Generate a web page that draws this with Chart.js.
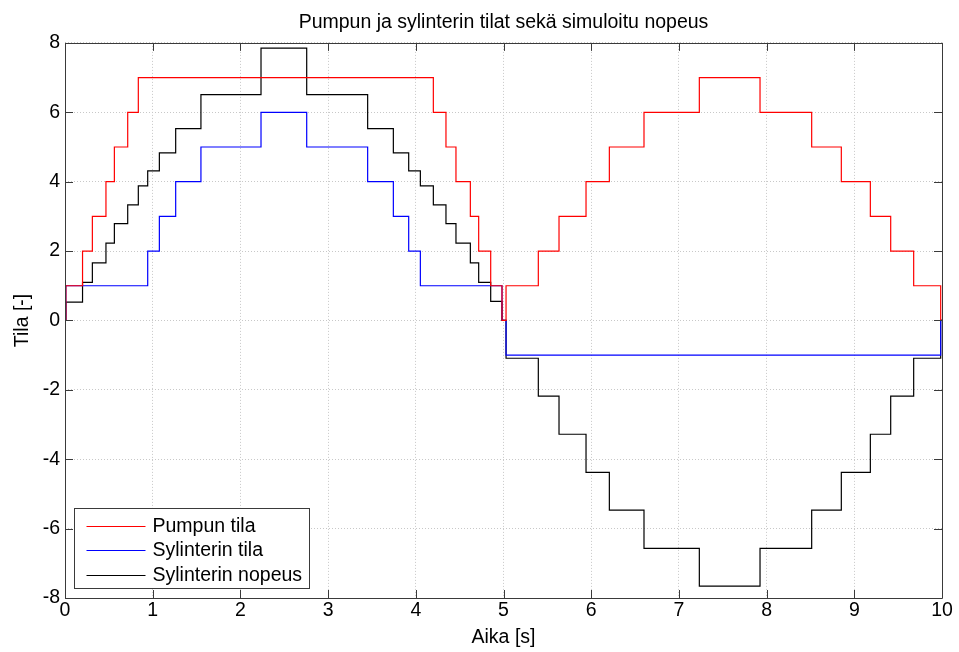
<!DOCTYPE html>
<html>
<head>
<meta charset="utf-8">
<script src="https://cdn.jsdelivr.net/npm/chart.js@4.4.1/dist/chart.umd.min.js"></script>
<style>
  html, body { margin: 0; padding: 0; background: #fff; }
  #wrap { width: 959px; height: 652px; }
</style>
</head>
<body>
<div id="wrap"><canvas id="c"></canvas></div>
<script>
// Step series: each time marks where the state switches to the listed value
const pumpTimes = [0, 0.01, 0.20, 0.312, 0.467, 0.563, 0.715, 0.836, 4.20, 4.344, 4.458, 4.622, 4.717, 4.854, 4.983, 5.029, 5.397, 5.633, 5.941, 6.207, 6.602, 7.233, 7.925, 8.514, 8.852, 9.183, 9.415, 9.677, 9.985, 10];
const pumpState = [0, 1, 2, 3, 4, 5, 6, 7, 6, 5, 4, 3, 2, 1, 0, 1, 2, 3, 4, 5, 6, 7, 6, 5, 4, 3, 2, 1, 0, 0];

const cylTimes = [0, 0.01, 0.943, 1.076, 1.262, 1.55, 2.235, 2.756, 3.451, 3.744, 3.919, 4.052, 4.983, 5.029, 9.985, 10];
const cylState = [0, 1, 2, 3, 4, 5, 6, 5, 4, 3, 2, 1, 0, -1, 0, 0];

const speedTimes = [0, 0.01, 0.20, 0.312, 0.467, 0.563, 0.715, 0.836, 0.943, 1.076, 1.262, 1.55, 2.235, 2.756, 3.451, 3.744, 3.919, 4.052, 4.20, 4.344, 4.458, 4.622, 4.717, 4.854, 4.983, 5.029, 5.397, 5.633, 5.941, 6.207, 6.602, 7.233, 7.925, 8.514, 8.852, 9.183, 9.415, 9.677, 9.985, 10];
const speedValues = [0, 0.53, 1.1, 1.66, 2.23, 2.79, 3.33, 3.88, 4.31, 4.83, 5.53, 6.51, 7.85, 6.51, 5.53, 4.83, 4.31, 3.88, 3.33, 2.79, 2.23, 1.66, 1.1, 0.55, 0, -1.09, -2.18, -3.28, -4.38, -5.47, -6.57, -7.66, -6.57, -5.47, -4.38, -3.28, -2.18, -1.09, 0, 0];

const xTicks = [0, 1, 2, 3, 4, 5, 6, 7, 8, 9, 10];
const yTicks = [-8, -6, -4, -2, 0, 2, 4, 6, 8];

const seriesNames = ['Pumpun tila', 'Sylinterin tila', 'Sylinterin nopeus'];
const seriesColors = ['#ff0000', '#0000ff', '#000000'];

const FONT = '"Liberation Sans", Arial, Helvetica, sans-serif';
const FS = 19.5;

function pts(t, v) { return t.map((x, i) => ({ x: x, y: v[i] })); }

// Axes frame with inward tick marks on all four sides
const framePlugin = {
  id: 'frame',
  afterDatasetsDraw(chart) {
    const { ctx, chartArea: a, scales } = chart;
    ctx.save();
    ctx.strokeStyle = '#3a3a3a';
    ctx.lineWidth = 1;
    ctx.beginPath();
    ctx.rect(Math.round(a.left) + 0.5, Math.round(a.top) + 0.5, Math.round(a.right - a.left), Math.round(a.bottom - a.top));
    ctx.stroke();
    const L = 8;
    ctx.beginPath();
    xTicks.forEach(v => {
      const px = Math.round(scales.x.getPixelForValue(v)) + 0.5;
      ctx.moveTo(px, a.bottom); ctx.lineTo(px, a.bottom - L);
      ctx.moveTo(px, a.top); ctx.lineTo(px, a.top + L);
    });
    yTicks.forEach(v => {
      const py = Math.round(scales.y.getPixelForValue(v)) + 0.5;
      ctx.moveTo(a.left, py); ctx.lineTo(a.left + L, py);
      ctx.moveTo(a.right, py); ctx.lineTo(a.right - L, py);
    });
    ctx.stroke();
    ctx.restore();
  }
};

// Boxed legend in the lower-left corner of the plot area
const boxLegend = {
  id: 'boxLegend',
  afterDraw(chart) {
    const { ctx, chartArea: a } = chart;
    const x0 = a.left + 9.5, y0 = a.bottom - 89.5, w = 235, h = 80;
    ctx.save();
    ctx.fillStyle = '#ffffff';
    ctx.fillRect(x0, y0, w, h);
    ctx.strokeStyle = '#3a3a3a';
    ctx.lineWidth = 1;
    ctx.strokeRect(x0, y0, w, h);
    ctx.font = FS + 'px ' + FONT;
    ctx.textBaseline = 'middle';
    ctx.textAlign = 'left';
    seriesNames.forEach((name, i) => {
      const yy = y0 + 17 + i * 24.5;
      ctx.strokeStyle = seriesColors[i];
      ctx.beginPath();
      ctx.moveTo(x0 + 12, Math.round(yy) + 0.5);
      ctx.lineTo(x0 + 71, Math.round(yy) + 0.5);
      ctx.stroke();
      ctx.fillStyle = '#000';
      ctx.fillText(name, x0 + 78, yy + 1);
    });
    ctx.restore();
  }
};

new Chart(document.getElementById('c'), {
  type: 'line',
  data: {
    datasets: [
      { label: seriesNames[0], data: pts(pumpTimes, pumpState), borderColor: seriesColors[0] },
      { label: seriesNames[1], data: pts(cylTimes, cylState), borderColor: seriesColors[1] },
      { label: seriesNames[2], data: pts(speedTimes, speedValues), borderColor: seriesColors[2] }
    ].map(d => Object.assign(d, { stepped: true, borderWidth: 1.2, pointRadius: 0, fill: false, tension: 0 }))
  },
  options: {
    responsive: true,
    maintainAspectRatio: false,
    animation: false,
    layout: { padding: { left: 0, right: 17, top: 0, bottom: 0 } },
    plugins: {
      legend: { display: false },
      tooltip: { enabled: false },
      title: {
        display: true,
        fullSize: false,
        text: 'Pumpun ja sylinterin tilat sekä simuloitu nopeus',
        color: '#000',
        font: { family: FONT, size: FS, weight: 'normal' },
        padding: { top: 10.5, bottom: 9 }
      }
    },
    scales: {
      x: {
        type: 'linear',
        min: 0, max: 10,
        afterFit(s) { s.height = 54; },
        afterBuildTicks(s) { s.ticks = xTicks.map(v => ({ value: v })); },
        ticks: { color: '#000', font: { family: FONT, size: FS }, padding: 1, maxRotation: 0 },
        grid: { color: '#c8c8c8', drawTicks: false, lineWidth: 1 },
        border: { display: false, dash: [1, 2] },
        title: { display: true, text: 'Aika [s]', color: '#000', font: { family: FONT, size: FS }, padding: { top: 0, bottom: 3 } }
      },
      y: {
        min: -8, max: 8,
        afterFit(s) { s.width = 65; },
        afterBuildTicks(s) { s.ticks = yTicks.map(v => ({ value: v })); },
        ticks: { color: '#000', font: { family: FONT, size: FS }, padding: 5 },
        grid: { color: '#c8c8c8', drawTicks: false, lineWidth: 1 },
        border: { display: false, dash: [1, 2] },
        title: { display: true, text: 'Tila [-]', color: '#000', font: { family: FONT, size: FS }, padding: { top: 11, bottom: 0 } }
      }
    }
  },
  plugins: [framePlugin, boxLegend]
});
</script>
</body>
</html>
